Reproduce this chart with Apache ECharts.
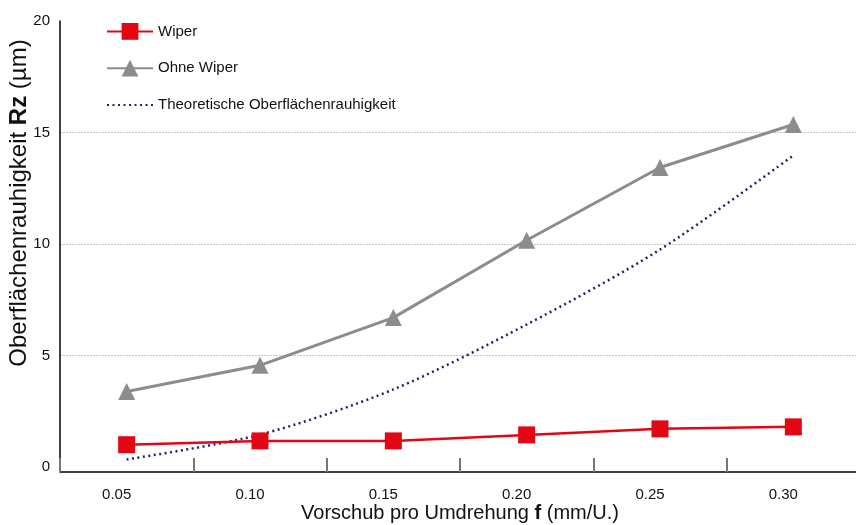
<!DOCTYPE html>
<html>
<head>
<meta charset="utf-8">
<script src="https://cdn.jsdelivr.net/npm/echarts@6/dist/echarts.min.js"></script>
<style>html,body{margin:0;padding:0;background:#fff}#c{width:856px;height:525px}</style>
</head>
<body>
<div id="c"></div>
<script>
const categories = ['0.05', '0.10', '0.15', '0.20', '0.25', '0.30'];
const wiper = [1.0, 1.17, 1.17, 1.44, 1.71, 1.80];
const ohneWiper = [3.39, 4.56, 6.70, 10.17, 13.43, 15.36];
const theoretisch = [0.34, 1.45, 3.48, 6.39, 9.75, 13.97];
const yTicks = [0, 5, 10, 15, 20];

const FONT = 'Liberation Sans';
const chart = echarts.init(document.getElementById('c'), null, {renderer: 'canvas'});
chart.setOption({
  animation: false,
  textStyle: {fontFamily: FONT},
  grid: {left: 60, right: -4, top: 21, bottom: 58, containLabel: false, outerBoundsMode: 'none'},
  legend: {
    orient: 'vertical', left: 101, top: 18, padding: 5,
    itemWidth: 46, itemHeight: 21, itemGap: 20,
    selectedMode: false,
    data: ['Wiper', 'Ohne Wiper', 'Theoretische Oberflächenrauhigkeit'],
    textStyle: {fontFamily: FONT, fontSize: 15, color: '#111'}
  },
  xAxis: {
    type: 'category', data: categories, boundaryGap: true, offset: 5,
    axisLine: {onZero: false, lineStyle: {color: '#000', width: 1.5}},
    axisTick: {show: true, inside: true, length: 14, lineStyle: {color: '#777', width: 2}},
    axisLabel: {fontFamily: FONT, fontSize: 15, color: '#111', margin: 15, padding: [0, 20, 0, 0]},
    name: '{a|Vorschub pro Umdrehung }{b|f}{a| (mm/U.)}',
    nameLocation: 'middle', nameGap: 31, nameMoveOverlap: false,
    nameTextStyle: {rich: {a: {fontFamily: FONT, fontSize: 20, color: '#111'}, b: {fontFamily: FONT, fontSize: 20, fontWeight: 'bold', color: '#111'}}}
  },
  yAxis: {
    type: 'value', min: yTicks[0], max: yTicks[yTicks.length - 1], interval: 5,
    axisLine: {show: true, lineStyle: {color: '#000', width: 1.5}},
    axisTick: {show: false},
    axisLabel: {fontFamily: FONT, fontSize: 15, color: '#111', margin: 10},
    splitLine: {show: true, showMinLine: false, showMaxLine: false, lineStyle: {color: '#c8c8c8', type: [2, 1], width: 1}},
    name: '{a|Oberflächenrauhigkeit }{b|Rz}{a| (µm)}',
    nameLocation: 'middle', nameGap: 29, nameRotate: 90, nameMoveOverlap: false,
    nameTextStyle: {padding: [0, 0, 0, 82], rich: {a: {fontFamily: FONT, fontSize: 24, color: '#111'}, b: {fontFamily: FONT, fontSize: 24, fontWeight: 'bold', color: '#111'}}}
  },
  series: [
    {
      name: 'Theoretische Oberflächenrauhigkeit', type: 'line', data: theoretisch,
      smooth: 0.3, symbol: 'none', z: 2,
      itemStyle: {color: 'rgba(0,0,0,0)'},
      lineStyle: {color: '#1f2468', width: 2.5, type: [2, 3.5]}
    },
    {
      name: 'Ohne Wiper', type: 'line', data: ohneWiper,
      symbol: 'triangle', symbolSize: 17, z: 3,
      itemStyle: {color: '#8c8c8c'},
      lineStyle: {color: '#8c8c8c', width: 3}
    },
    {
      name: 'Wiper', type: 'line', data: wiper,
      symbol: 'rect', symbolSize: 17, z: 4,
      itemStyle: {color: '#e30613'},
      lineStyle: {color: '#e30613', width: 2.5}
    }
  ]
});
</script>
</body>
</html>
